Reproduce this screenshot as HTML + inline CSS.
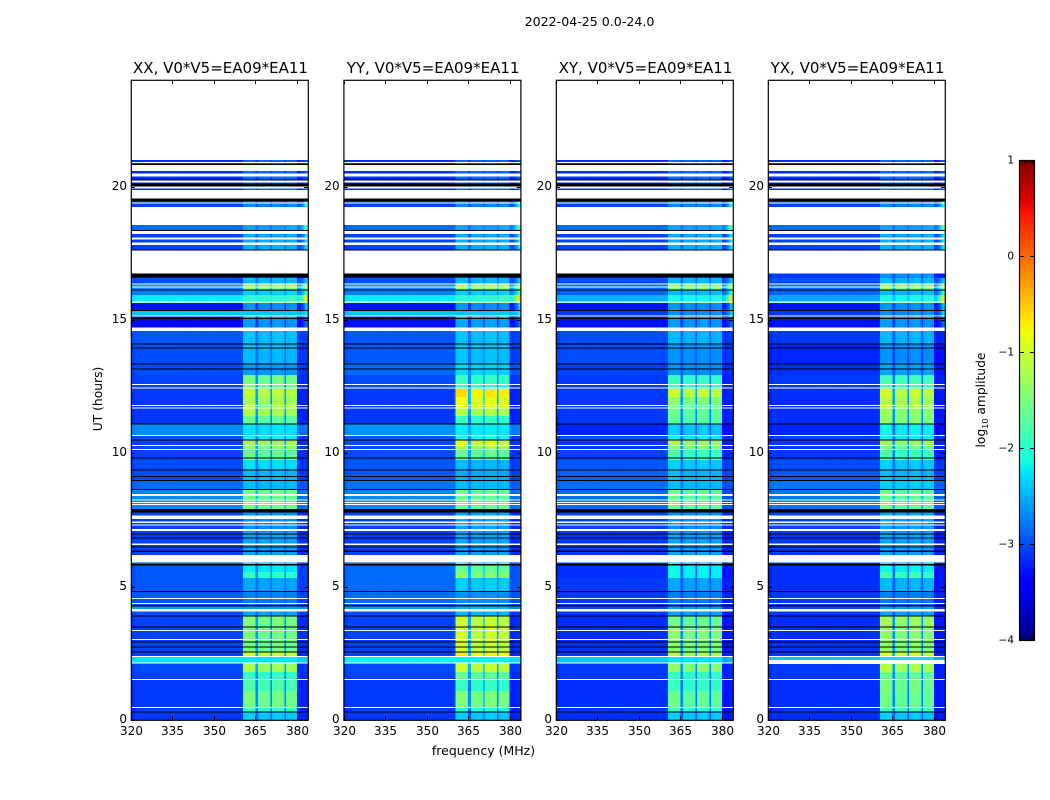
<!DOCTYPE html>
<html lang="en">
<head>
<meta charset="utf-8">
<title>2022-04-25 0.0-24.0</title>
<style>
html,body{margin:0;padding:0;background:#fff;width:1050px;height:800px;overflow:hidden}
svg{display:block}
text{font-family:"DejaVu Sans","Liberation Sans",sans-serif;fill:#000}
.tick{font-size:12px}
.ptitle{font-size:15px}
</style>
</head>
<body>
<svg id="chart" width="1050" height="800" viewBox="0 0 1050 800" xmlns="http://www.w3.org/2000/svg">
<text x="589.500" y="26" font-size="12.600" text-anchor="middle">2022-04-25 0.0-24.0</text>
<text transform="translate(102 399) rotate(-90)" font-size="12.300" text-anchor="middle">UT (hours)</text>
<text x="483.500" y="755" font-size="12.500" text-anchor="middle">frequency (MHz)</text>
<text transform="translate(985 400) rotate(-90)" font-size="12.300" text-anchor="middle">log<tspan font-size="8" dy="3">10</tspan><tspan dy="-3"> amplitude</tspan></text>
<g id="panels"></g>
<g id="colorbar"></g>
</svg>
<script>
// ---------- Data ----------
const polarizations = ["XX", "YY", "XY", "YX"];
const baselineLabel = "V0*V5=EA09*EA11";
const xTickLabels = [320, 335, 350, 365, 380];
const yTickLabels = [0, 5, 10, 15, 20];
const colorbarTicks = [1, 0, -1, -2, -3, -4];

// Upper UT edge (hours) of each time block; a block ends where the next begins.
const blockTopUT = [21.0,19.875,18.563,18.375,16.751,16.575,16.376,16.151,15.938,15.694,15.637,15.356,15.15,14.588,14.063,13.388,12.938,12.413,12.113,11.738,11.4,11.1,10.65,10.5,10.275,10.125,9.75,9.413,8.963,8.625,7.875,7.125,5.888,5.55,5.325,4.8,4.275,4.125,3.9,3.488,2.55,2.363,2.138,1.8,1.5,1.088,0.45,0.3];

// log10 amplitude of the off-band background per block.
const backgroundXX = [-3.15,-3.05,-2.85,-3.05,-3.1,-3.0,-2.7,-2.75,-2.2,-1.6,-3.3,-2.4,-3.35,-2.95,-3.0,-3.0,-3.05,-3.1,-3.1,-3.1,-3.1,-2.7,-3.0,-3.05,-3.0,-3.05,-3.0,-3.0,-2.85,-2.7,-3.05,-3.05,-2.95,-2.95,-2.95,-2.95,-2.6,-3.0,-3.05,-3.05,-3.05,-2.25,-3.0,-3.05,-3.1,-3.1,-3.1,-3.1];
const backgroundYY = [-3.15,-3.05,-2.85,-3.05,-3.1,-3.0,-2.7,-2.75,-2.2,-1.6,-3.3,-2.4,-3.3,-2.95,-2.95,-2.85,-3.0,-3.1,-3.1,-3.1,-3.1,-2.65,-2.95,-3.0,-3.0,-3.0,-2.95,-2.95,-2.8,-2.7,-3.05,-3.05,-2.85,-2.85,-2.85,-2.85,-2.6,-3.0,-3.05,-3.05,-3.05,-2.2,-3.0,-3.05,-3.1,-3.1,-3.1,-3.1];
const backgroundXY = [-3.15,-3.05,-2.85,-3.05,-3.1,-3.0,-2.85,-2.9,-2.5,-1.75,-3.3,-3.1,-3.3,-3.0,-3.0,-3.05,-3.1,-3.1,-3.1,-3.1,-3.1,-3.2,-3.0,-3.1,-3.1,-3.05,-2.95,-2.9,-2.85,-2.85,-3.05,-3.1,-3.15,-3.15,-3.1,-3.1,-3.0,-3.1,-3.15,-3.15,-3.1,-2.4,-3.1,-3.1,-3.15,-3.15,-3.15,-3.15];
const backgroundYX = [-3.15,-3.05,-2.85,-3.05,-3.1,-3.0,-2.85,-2.9,-2.55,-1.75,-3.3,-3.1,-3.3,-3.1,-3.2,-3.15,-3.1,-3.15,-3.15,-3.15,-3.15,-3.2,-3.05,-3.1,-3.1,-3.1,-3.0,-2.95,-2.8,-2.8,-3.05,-3.1,-3.15,-3.15,-3.15,-3.1,-3.0,-3.1,-3.15,-3.15,-3.1,-2.4,-3.1,-3.1,-3.15,-3.15,-3.15,-3.15];

// log10 amplitude inside the bright 361-380 MHz band per block.
const bandXX = [-2.85,-2.7,-2.55,-2.5,-2.65,-2.45,-1.3,-2.35,-1.95,-1.5,-2.65,-2.4,-2.6,-2.4,-2.45,-2.6,-1.5,-1.05,-1.2,-1.15,-1.6,-2.25,-2.15,-1.25,-1.35,-1.6,-2.25,-2.45,-2.45,-1.55,-2.65,-2.55,-2.2,-1.95,-2.55,-2.75,-2.55,-2.55,-1.45,-1.5,-1.0,-2.25,-1.2,-1.9,-1.75,-1.5,-1.9,-2.35];
const bandYY = [-2.85,-2.7,-2.55,-2.5,-2.65,-2.45,-1.2,-2.35,-1.95,-1.5,-2.65,-2.4,-2.55,-2.4,-2.4,-2.3,-1.9,-0.6,-0.8,-1.1,-1.9,-2.2,-2.1,-0.9,-1.2,-1.6,-2.45,-2.5,-2.45,-1.6,-2.55,-2.55,-1.6,-1.4,-2.35,-2.65,-2.45,-2.45,-1.0,-0.95,-0.65,-2.2,-1.0,-1.6,-1.9,-1.45,-2.0,-2.35];
const bandXY = [-2.85,-2.7,-2.55,-2.5,-2.65,-2.45,-1.3,-2.45,-2.1,-1.6,-2.65,-2.65,-2.6,-2.45,-2.65,-2.65,-1.9,-1.0,-1.4,-1.6,-1.65,-2.35,-2.15,-1.2,-1.4,-1.8,-2.35,-2.45,-2.45,-1.6,-2.65,-2.55,-2.15,-2.15,-2.55,-2.75,-2.55,-2.55,-1.55,-1.4,-1.15,-2.25,-1.35,-1.9,-1.9,-1.6,-1.9,-2.35];
const bandYX = [-2.85,-2.7,-2.55,-2.5,-2.65,-2.45,-1.3,-2.45,-2.1,-1.6,-2.65,-2.65,-2.6,-2.45,-2.65,-2.55,-1.8,-1.0,-1.15,-1.3,-1.35,-2.15,-2.15,-1.3,-1.45,-1.8,-2.35,-2.45,-2.35,-1.6,-2.55,-2.55,-2.15,-1.85,-2.45,-2.75,-2.55,-2.55,-1.25,-1.35,-0.95,-2.25,-1.15,-1.6,-1.5,-1.55,-1.8,-2.35];

// log10 amplitude reached at the top band edge (384 MHz) per block; 0 = no edge brightening.
const edgeLevel = [-2.9,-1.9,-1.5,-2.1,0,-2.3,-1.0,-1.8,-0.5,-0.7,-2.3,-2.2,-2.8,0,0,0,0,0,0,0,0,0,0,0,0,0,0,0,0,0,0,0,0,0,0,0,0,0,0,0,0,0,0,0,0,0,0,0];

// Per-channel profile, 128 channels of 0.5 MHz from 320 MHz.
const bandWeight = [
0,0,0,0,0,0,0,0,0,0,0,0,0,0,0,0,
0,0,0,0,0,0,0,0,0,0,0,0,0,0,0,0,
0,0,0,0,0,0,0,0,0,0,0,0,0,0,0,0,
0,0,0,0,0,0,0,0,0,0,0,0,0,0,0,0,
0,0,0,0,0,0,0,0,0,0,0,0,0,0,0,0,
0.05,0.97,1,1,1,1,1,1,1,0.95,0.25,0.3,0.85,0.94,0.94,0.94,
0.94,0.94,0.94,0.94,0.85,0.25,0.9,0.98,0.98,0.98,0.98,0.98,0.98,0.98,0.9,0.25,
0.88,0.95,0.95,0.95,0.95,0.95,0.95,0.9,0,0,0,0,0,0,0,0];
const channelTilt = [
-0.08,-0.05,-0.03,0,0,0,0,0,0,0.02,0,0,0,0.01,0,0,
0,0,0.02,0,0,0,0,0,0.01,0,0,0,0,0,0.02,0,
0,0,0,0,0,0.01,0,0,0,0,0,0,0,0,0,0,
0,0.02,0,0,0,0,0,0,0,0,0.01,0,0,0,0,0,
0,0,0,0,0,0,0.01,0,0,0,0,0,0,0,0,0,
0,0,0,0,0,0,0,0,0,0,0,0,0,0,0,0,
0,0,0,0,0,0,0,0,0,0,0,0,0,0,0,0,
0,0,0,0,0,0,0,0,-0.12,-0.14,-0.14,-0.12,-0.12,-0.1,-0.1,-0.08];
const edgeWeight = [
0,0,0,0,0,0,0,0,0,0,0,0,0,0,0,0,
0,0,0,0,0,0,0,0,0,0,0,0,0,0,0,0,
0,0,0,0,0,0,0,0,0,0,0,0,0,0,0,0,
0,0,0,0,0,0,0,0,0,0,0,0,0,0,0,0,
0,0,0,0,0,0,0,0,0,0,0,0,0,0,0,0,
0,0,0,0,0,0,0,0,0,0,0,0,0,0,0,0,
0,0,0,0,0,0,0,0,0,0,0,0,0,0,0.02,0.02,
0.03,0.03,0.04,0.05,0.06,0.07,0.08,0.1,0.12,0.15,0.2,0.3,0.45,0.6,0.8,1];

// Flagged time ranges [top UT, bottom UT].
const whiteFlagsUT = [[20.925,20.888],[20.813,20.588],[20.501,20.374],[20.25,20.164],[19.999,19.939],[19.875,19.564],[19.399,19.361],[19.238,18.563],[18.349,18.225],[18.101,18.026],[17.899,17.813],[17.599,16.751],[16.369,16.331],[16.256,16.219],[15.686,15.649],[15.161,15.124],[14.711,14.588],[12.608,12.57],[12.465,12.428],[11.813,11.775],[11.719,11.681],[10.688,10.65],[10.313,10.268],[10.163,10.125],[8.475,8.4],[8.276,8.239],[8.175,8.138],[8.1,8.063],[7.661,7.538],[7.436,7.388],[7.339,7.301],[7.163,7.088],[6.611,6.563],[6.188,5.914],[4.575,4.538],[4.388,4.35],[4.163,4.061],[3.375,3.338],[3.038,3.0],[2.4,2.363],[2.149,2.111],[1.538,1.5],[0.488,0.45]];
const blackFlagsUT = [[20.85,20.813],[20.276,20.25],[20.119,19.999],[19.564,19.436],[18.375,18.349],[17.651,17.599],[16.151,16.125],[15.375,15.338],[15.075,15.038],[14.126,14.089],[13.961,13.924],[13.376,13.35],[13.189,13.151],[11.126,11.074],[10.526,10.5],[9.851,9.825],[9.401,9.375],[9.15,9.124],[9.0,8.974],[8.663,8.625],[7.913,7.789],[6.994,6.964],[6.844,6.814],[6.499,6.461],[6.349,6.3],[5.85,5.801],[4.838,4.8],[4.313,4.249],[3.926,3.874],[3.514,3.476],[2.936,2.899],[2.764,2.726],[2.576,2.539],[0.311,0.289]];
const blackFlagsNotYX = [[16.751,16.601]];
const whiteFlagsYXOnly = [[2.25,2.1]];

const backgroundByPol = {XX: backgroundXX, YY: backgroundYY, XY: backgroundXY, YX: backgroundYX};
const bandByPol = {XX: bandXX, YY: bandYY, XY: bandXY, YX: bandYX};

// ---------- Layout and axis functions ----------
const NS = "http://www.w3.org/2000/svg";
const panelLeft = {XX: 131, YY: 343.6, XY: 556, YX: 768};
const panelWidth = 177, plotTop = 80, plotBottom = 720;
const mhzMin = 320, mhzMax = 384, utMin = 0, utMax = 24, channelStep = 0.5;
const colorMin = -4, colorMax = 1;
const barLeft = 1019, barRight = 1035, barTop = 160, barBottom = 640;

function xScale(pol, mhz) { return panelLeft[pol] + (mhz - mhzMin) / (mhzMax - mhzMin) * panelWidth; }
function yScale(ut) { return plotBottom - (ut - utMin) / (utMax - utMin) * (plotBottom - plotTop); }
function barScale(v) { return barBottom - (v - colorMin) / (colorMax - colorMin) * (barBottom - barTop); }

function ramp(stops, t) {
  for (let i = 1; i < stops.length; i++) {
    if (t <= stops[i][0]) {
      const a = stops[i - 1], b = stops[i];
      return a[1] + (b[1] - a[1]) * (t - a[0]) / (b[0] - a[0]);
    }
  }
  return stops[stops.length - 1][1];
}
const jetR = [[0,0],[0.35,0],[0.66,1],[0.89,1],[1,0.5]];
const jetG = [[0,0],[0.125,0],[0.375,1],[0.64,1],[0.91,0],[1,0]];
const jetB = [[0,0.5],[0.11,1],[0.34,1],[0.65,0],[1,0]];
function colorOf(v) {
  const t = Math.min(1, Math.max(0, (v - colorMin) / (colorMax - colorMin)));
  const c = s => Math.round(255 * ramp(s, t));
  return "rgb(" + c(jetR) + "," + c(jetG) + "," + c(jetB) + ")";
}
function cellValue(pol, block, ch) {
  const bg = backgroundByPol[pol][block] + channelTilt[ch];
  let v = bg + bandWeight[ch] * (bandByPol[pol][block] - bg);
  if (edgeLevel[block] !== 0) v += edgeWeight[ch] * (edgeLevel[block] - v);
  return v;
}
function make(tag, parent) {
  const el = document.createElementNS(NS, tag);
  parent.appendChild(el);
  return el;
}
function drawFlag(group, pol, range, color) {
  const el = make("rect", group);
  
  
  const y0 = yScale(range[0]);
  el.setAttribute("x", panelLeft[pol]);
  el.setAttribute("y", y0);
  el.setAttribute("width", panelWidth);
  el.setAttribute("height", Math.max(1, yScale(range[1]) - y0));
  el.setAttribute("fill", color);
}

// ---------- Panels ----------
const panelsRoot = document.getElementById("panels");
polarizations.forEach(function (pol, panelIndex) {
  const panel = make("g", panelsRoot);
  
  

  const heat = make("g", panel);
  
  
  heat.setAttribute("shape-rendering", "crispEdges");
  blockTopUT.forEach(function (top, block) {
    const bottom = block + 1 < blockTopUT.length ? blockTopUT[block + 1] : utMin;
    const y0 = yScale(top), y1 = yScale(bottom);
    bandWeight.forEach(function (_, ch) {
      const f0 = mhzMin + ch * channelStep;
      const cell = make("rect", heat);
      
      
      const x0 = xScale(pol, f0);
      cell.setAttribute("x", x0);
      cell.setAttribute("y", y0);
      cell.setAttribute("width", xScale(pol, f0 + channelStep) - x0);
      cell.setAttribute("height", y1 - y0);
      cell.setAttribute("fill", colorOf(cellValue(pol, block, ch)));
    });
  });

  const flags = make("g", panel);
  
  
  flags.setAttribute("shape-rendering", "crispEdges");
  whiteFlagsUT.forEach(r => drawFlag(flags, pol, r, "#fff"));
  if (pol === "YX") whiteFlagsYXOnly.forEach(r => drawFlag(flags, pol, r, "#fff"));
  blackFlagsUT.forEach(r => drawFlag(flags, pol, r, "#000"));
  if (pol !== "YX") blackFlagsNotYX.forEach(r => drawFlag(flags, pol, r, "#000"));

  const frame = make("rect", panel);
  
  
  frame.setAttribute("x", panelLeft[pol] + 0.3);
  frame.setAttribute("y", plotTop + 0.3);
  frame.setAttribute("width", panelWidth);
  frame.setAttribute("height", plotBottom - plotTop);
  frame.setAttribute("fill", "none");
  frame.setAttribute("stroke", "#000");
  frame.setAttribute("stroke-width", "1.2");

  const title = make("text", panel);
  
  
  title.setAttribute("class", "ptitle");
  title.setAttribute("x", panelLeft[pol] + panelWidth / 2 + 1);
  title.setAttribute("y", 73);
  title.setAttribute("text-anchor", "middle");
  title.textContent = pol + ", " + baselineLabel;

  xTickLabels.forEach(function (mhz) {
    const x = Math.round(xScale(pol, mhz)) + 0.5;
    [[plotTop, plotTop + 4], [plotBottom, plotBottom - 4]].forEach(function (seg) {
      const tick = make("line", panel);
      
      
      tick.setAttribute("x1", x);
      tick.setAttribute("x2", x);
      tick.setAttribute("y1", seg[0]);
      tick.setAttribute("y2", seg[1]);
      tick.setAttribute("stroke", "#000");
    });
    const label = make("text", panel);
    
    
    label.setAttribute("class", "tick");
    label.setAttribute("x", x);
    label.setAttribute("y", 735);
    label.setAttribute("text-anchor", "middle");
    label.textContent = mhz;
  });

  yTickLabels.forEach(function (ut) {
    const y = Math.round(yScale(ut)) + 0.5;
    const left = panelLeft[pol], right = left + panelWidth;
    [[left, left + 4], [right, right - 4]].forEach(function (seg) {
      const tick = make("line", panel);
      
      
      tick.setAttribute("x1", seg[0]);
      tick.setAttribute("x2", seg[1]);
      tick.setAttribute("y1", y);
      tick.setAttribute("y2", y);
      tick.setAttribute("stroke", "#000");
    });
    const label = make("text", panel);
    
    
    label.setAttribute("class", "tick");
    label.setAttribute("x", left - 4);
    label.setAttribute("y", y + 2.5);
    label.setAttribute("text-anchor", "end");
    label.textContent = ut;
  });
});

// ---------- Colorbar ----------
const barRoot = document.getElementById("colorbar");
const barGroup = make("g", barRoot);


barGroup.setAttribute("shape-rendering", "crispEdges");
const barSteps = barBottom - barTop;
for (let i = 0; i < barSteps; i++) {
  const v0 = colorMin + (colorMax - colorMin) * i / barSteps;
  const v1 = colorMin + (colorMax - colorMin) * (i + 1) / barSteps;
  const seg = make("rect", barGroup);
  
  
  seg.setAttribute("x", barLeft);
  seg.setAttribute("y", barScale(v1));
  seg.setAttribute("width", barRight - barLeft);
  seg.setAttribute("height", barScale(v0) - barScale(v1));
  seg.setAttribute("fill", colorOf((v0 + v1) / 2));
}
const barFrame = make("rect", barRoot);


barFrame.setAttribute("x", barLeft + 0.5);
barFrame.setAttribute("y", barTop + 0.5);
barFrame.setAttribute("width", barRight - barLeft - 1);
barFrame.setAttribute("height", barBottom - barTop);
barFrame.setAttribute("fill", "none");
barFrame.setAttribute("stroke", "#000");
barFrame.setAttribute("stroke-width", "1.2");

colorbarTicks.forEach(function (v) {
  const y = Math.round(barScale(v)) + 0.5;
  const label = make("text", barRoot);
  
  
  label.setAttribute("font-size", "10.500");
  label.setAttribute("x", barLeft - 5);
  label.setAttribute("y", y + 3);
  label.setAttribute("text-anchor", "end");
  label.textContent = String(v).replace("-", "\u2212");
  if (v === colorMax || v === colorMin) return;
  [[barLeft, barLeft + 5], [barRight, barRight - 5]].forEach(function (s) {
    const tick = make("line", barRoot);
    
    
    tick.setAttribute("x1", s[0]);
    tick.setAttribute("x2", s[1]);
    tick.setAttribute("y1", y);
    tick.setAttribute("y2", y);
    tick.setAttribute("stroke", "#000");
  });
});
[0, 1, 2, 3, 4].forEach(function (k) {
  const x = barLeft + 3.5 + k * 2.5;
  [[barTop, barTop + 4], [barBottom, barBottom - 4]].forEach(function (s) {
    const minor = make("line", barRoot);
    
    
    minor.setAttribute("x1", x);
    minor.setAttribute("x2", x);
    minor.setAttribute("y1", s[0]);
    minor.setAttribute("y2", s[1]);
    minor.setAttribute("stroke", "#000");
    minor.setAttribute("stroke-width", "0.7");
  });
});
const dots = make("text", barRoot);


dots.setAttribute("font-size", "4");
dots.setAttribute("x", barLeft - 2);
dots.setAttribute("y", 647);
dots.setAttribute("letter-spacing", "1.2");
dots.setAttribute("style", "fill:#777");
dots.textContent = "......";
</script>
</body>
</html>
